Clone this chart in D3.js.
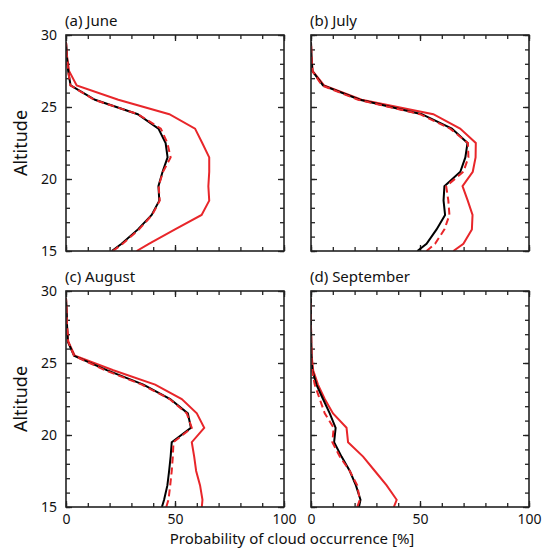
<!DOCTYPE html>
<html>
<head>
<meta charset="utf-8">
<script src="https://cdn.jsdelivr.net/npm/d3@7"></script>
<style>
  body { margin: 0; background: #fff; }
  text { font-family: "Noto Sans", sans-serif; fill: #111; }
  .frame { fill: none; stroke: #222; stroke-width: 1.6; }
  .tk line { stroke: #222; stroke-width: 1.3; }
  .tk path { display: none; }
  .tk text { font-size: 14px; }
</style>
</head>
<body>
<script>
// altitude levels (km), bottom to top
var altitudes = [15, 15.5, 16.5, 17.5, 18.5, 19.5, 20.5, 21.5, 22.5, 23.5, 24.5, 25.5, 26.5, 27.5, 28.5, 29.5];

var panelTitles = ["(a) June", "(b) July", "(c) August", "(d) September"];

// black solid line, one array per month
var blackJune = [21, 25.5, 33, 39.3, 42.8, 42.4, 44.3, 46.6, 45.7, 42.4, 32.9, 13.3, 2.1, 1.0, 0.4, 0];
var blackJuly = [48.8, 53, 57.6, 61.5, 60.8, 61.2, 68.5, 70.8, 71.8, 64.6, 50.8, 22.4, 5.5, 0.6, 0.2, 0];
var blackAug  = [44, 45, 46.5, 47.3, 48, 48.5, 57.3, 55.9, 47.8, 35.5, 18.7, 3.7, 0.8, 0.5, 0.3, 0];
var blackSep  = [22, 22.7, 20.6, 17.8, 14, 10.6, 11.3, 8.6, 5.5, 2.5, 0.6, 0.2, 0.1, 0, 0, 0];

// red dashed line
var dashJune = [21.5, 26, 33.5, 39.5, 43, 42.5, 44.5, 48, 46.5, 43.5, 33, 13, 2, 1, 0.4, 0];
var dashJuly = [53, 56.9, 61.2, 63.5, 63, 62, 69.9, 72.2, 72, 63.8, 50, 21.6, 5, 0.6, 0.2, 0];
var dashAug  = [46, 47, 47.8, 48.5, 49, 49.3, 57.7, 55.4, 47.5, 34.8, 17.9, 3.7, 1, 0.5, 0.3, 0];
var dashSep  = [21.2, 22.4, 21.2, 17.8, 13.2, 9.8, 10.4, 6.3, 4, 1.7, 0.5, 0.2, 0.1, 0, 0, 0];

// red solid line
var redJune = [32.4, 38, 50, 62.2, 65.7, 65.3, 65.7, 65.7, 62.5, 59.2, 47.4, 24, 4.9, 1.4, 0.5, 0];
var redJuly = [65.3, 69.9, 73.8, 74.1, 71.9, 69.5, 74.2, 75.5, 75.6, 68.4, 56.1, 23.2, 6, 0.8, 0.2, 0];
var redAug  = [62.3, 62.6, 61.5, 59.7, 58.8, 57.7, 63.4, 60, 53.1, 40.9, 21.7, 4.1, 1, 0.5, 0.3, 0];
var redSep  = [38, 39.3, 34.7, 29.3, 23.9, 17, 16.3, 10.1, 6.3, 3.2, 1, 0.3, 0.1, 0, 0, 0];

var blackSeries = [blackJune, blackJuly, blackAug, blackSep];
var dashSeries  = [dashJune, dashJuly, dashAug, dashSep];
var redSeries   = [redJune, redJuly, redAug, redSep];

var xTicks = [0, 50, 100];
var yTicks = [15, 20, 25, 30];

var w = 543, h = 549;
var red = "#e8262a";

var svg = d3.select("body").append("svg")
    .attr("width", w)
    .attr("height", h);

// panel boxes (left, top) and size
var colX = [66, 311];
var rowY = [35, 291];
var pw = 218, ph = 216;

for (var p = 0; p < 4; p++) {
    var col = p % 2, row = Math.floor(p / 2);
    var x0 = colX[col], y0 = rowY[row];

    var x = d3.scaleLinear().domain([0, 100]).range([x0, x0 + pw]);
    var y = d3.scaleLinear().domain([15, 30]).range([y0 + ph, y0]);

    var g = svg.append("g");

    g.append("clipPath").attr("id", "clip" + p)
        .append("rect").attr("x", x0).attr("y", y0).attr("width", pw).attr("height", ph);

    // minor ticks on all sides
    g.append("g").attr("class", "tk").attr("transform", "translate(" + x0 + ",0)")
        .call(d3.axisLeft(y).tickValues(d3.range(15, 31, 1)).tickSize(-4).tickFormat(""));
    g.append("g").attr("class", "tk").attr("transform", "translate(" + (x0 + pw) + ",0)")
        .call(d3.axisRight(y).tickValues(d3.range(15, 31, 1)).tickSize(-4).tickFormat(""));
    g.append("g").attr("class", "tk").attr("transform", "translate(0," + (y0 + ph) + ")")
        .call(d3.axisBottom(x).tickValues(d3.range(0, 101, 10)).tickSize(-4).tickFormat(""));
    g.append("g").attr("class", "tk").attr("transform", "translate(0," + y0 + ")")
        .call(d3.axisTop(x).tickValues(d3.range(0, 101, 10)).tickSize(-4).tickFormat(""));

    // major ticks
    g.append("g").attr("class", "tk").attr("transform", "translate(" + x0 + ",0)")
        .call(d3.axisLeft(y).tickValues(yTicks).tickSizeInner(-6).tickPadding(col === 0 ? 9 : 0)
            .tickFormat(col === 0 ? d3.format("d") : ""));
    g.append("g").attr("class", "tk").attr("transform", "translate(" + (x0 + pw) + ",0)")
        .call(d3.axisRight(y).tickValues(yTicks).tickSizeInner(-6).tickFormat(""));
    g.append("g").attr("class", "tk").attr("transform", "translate(0," + (y0 + ph) + ")")
        .call(d3.axisBottom(x).tickValues(xTicks).tickSizeInner(-6).tickPadding(row === 1 ? 7 : 0)
            .tickFormat(row === 1 ? d3.format("d") : ""));
    g.append("g").attr("class", "tk").attr("transform", "translate(0," + y0 + ")")
        .call(d3.axisTop(x).tickValues(xTicks).tickSizeInner(-6).tickFormat(""));

    var line = d3.line()
        .x(function(d) { return x(d[0]); })
        .y(function(d) { return y(d[1]); });

    function pairs(vals) {
        return vals.map(function(v, i) { return [v, altitudes[i]]; });
    }

    var lines = g.append("g").attr("clip-path", "url(#clip" + p + ")");
    lines.append("path").datum(pairs(redSeries[p]))
        .attr("fill", "none").attr("stroke", red).attr("stroke-width", 2)
        .attr("d", line);
    lines.append("path").datum(pairs(blackSeries[p]))
        .attr("fill", "none").attr("stroke", "#000").attr("stroke-width", 2)
        .attr("d", line);
    lines.append("path").datum(pairs(dashSeries[p]))
        .attr("fill", "none").attr("stroke", red).attr("stroke-width", 2)
        .attr("stroke-dasharray", "7,4")
        .attr("d", line);

    g.append("rect").attr("class", "frame")
        .attr("x", x0).attr("y", y0).attr("width", pw).attr("height", ph);

    g.append("text")
        .attr("x", x0 - 1)
        .attr("y", y0 - 9)
        .style("font-size", "15px")
        .text(panelTitles[p]);

    if (col === 0) {
        g.append("text")
            .attr("transform", "translate(27," + (y0 + ph / 2) + ") rotate(-90)")
            .attr("text-anchor", "middle")
            .style("font-size", "18px")
            .text("Altitude");
    }
}

svg.append("text")
    .attr("x", 292)
    .attr("y", 544)
    .attr("text-anchor", "middle")
    .style("font-size", "15px")
    .text("Probability of cloud occurrence [%]");
</script>
</body>
</html>
